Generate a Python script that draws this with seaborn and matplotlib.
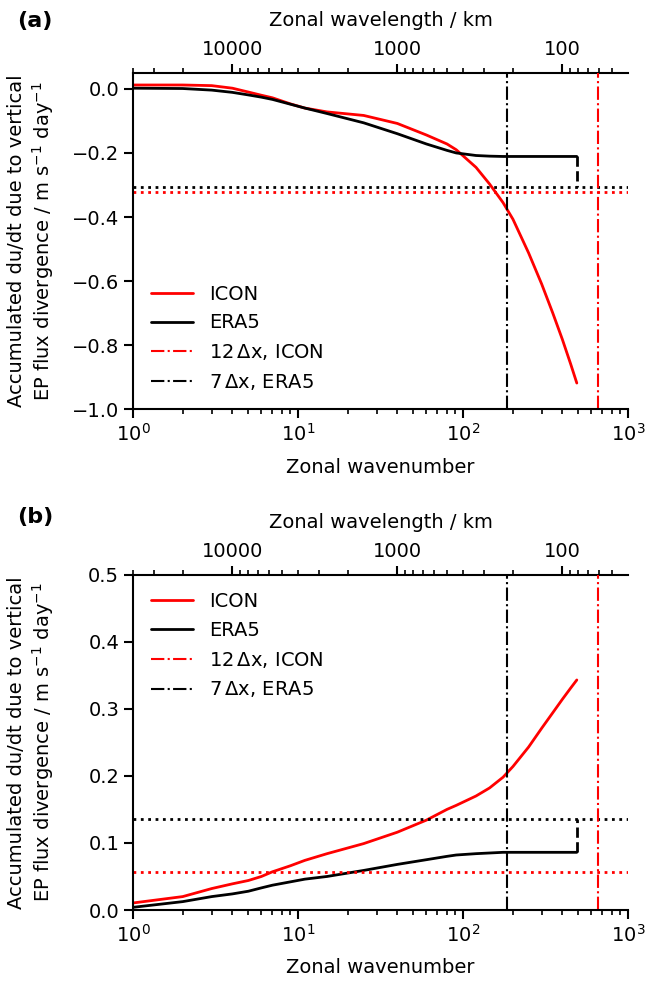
import numpy as np
import pandas as pd
import matplotlib
matplotlib.use("Agg")
import matplotlib.pyplot as plt
import seaborn as sns
from matplotlib.ticker import FuncFormatter, NullFormatter, FixedLocator

# ---------------- data ----------------
wavenumber = [1, 2, 3, 4, 5, 6, 7, 9, 11, 15, 25, 40, 60, 80, 91, 120, 145,
              175, 201, 250, 300, 350, 400, 450, 490]

icon_a = [0.012, 0.012, 0.010, 0.002, -0.010, -0.020, -0.028, -0.047, -0.060,
          -0.072, -0.083, -0.108, -0.144, -0.172, -0.190, -0.245, -0.297,
          -0.355, -0.407, -0.512, -0.609, -0.699, -0.781, -0.859, -0.918]
era5_a = [0.002, 0.001, -0.004, -0.011, -0.019, -0.026, -0.033, -0.048, -0.060,
          -0.077, -0.106, -0.140, -0.172, -0.192, -0.200, -0.208, -0.210,
          -0.211, -0.211, -0.211, -0.211, -0.211, -0.211, -0.211, -0.211]

icon_b = [0.0105, 0.020, 0.032, 0.039, 0.044, 0.050, 0.057, 0.066, 0.074,
          0.084, 0.099, 0.116, 0.134, 0.150, 0.156, 0.170, 0.182, 0.198,
          0.214, 0.243, 0.271, 0.294, 0.314, 0.331, 0.343]
era5_b = [0.004, 0.0125, 0.020, 0.024, 0.028, 0.033, 0.037, 0.042, 0.046,
          0.050, 0.059, 0.068, 0.075, 0.080, 0.082, 0.084, 0.085, 0.086,
          0.086, 0.086, 0.086, 0.086, 0.086, 0.086, 0.086]

# totals (dotted horizontal lines)
total_icon = {"a": -0.323, "b": 0.057}
total_era5 = {"a": -0.305, "b": 0.135}

# effective resolution cut-offs (zonal wavenumber)
cutoff_icon = 662   # 12 dx, ICON
cutoff_era5 = 184   # 7 dx, ERA5

earth_circ = 40030.0  # km
wavelength_ticks = [10000, 1000, 100]
wavelength_minor = ([20000, 30000, 40000] + list(range(2000, 10000, 1000))
                    + list(range(200, 1000, 100)) + [50, 60, 70, 80, 90])

panels = {
    "a": dict(icon=icon_a, era5=era5_a, ylim=(-1.0, 0.05),
              yticks=[-1.0, -0.8, -0.6, -0.4, -0.2, 0.0], loc="lower left"),
    "b": dict(icon=icon_b, era5=era5_b, ylim=(0.0, 0.5),
              yticks=[0.0, 0.1, 0.2, 0.3, 0.4, 0.5], loc="upper left"),
}

# ---------------- style ----------------
sns.set_style("ticks")
plt.rcParams["font.family"] = ["DejaVu Sans"]
plt.rcParams["font.size"] = 14
plt.rcParams["text.color"] = "black"
plt.rcParams["axes.labelcolor"] = "black"
plt.rcParams["axes.linewidth"] = 1.5
plt.rcParams["xtick.major.width"] = 1.5
plt.rcParams["ytick.major.width"] = 1.5
plt.rcParams["xtick.minor.width"] = 1.2
plt.rcParams["xtick.major.size"] = 6.5
plt.rcParams["ytick.major.size"] = 6.5
plt.rcParams["xtick.minor.size"] = 3.6
plt.rcParams["xtick.color"] = "black"
plt.rcParams["ytick.color"] = "black"
plt.rcParams["axes.edgecolor"] = "black"

fig = plt.figure(figsize=(6.46, 9.84), dpi=100)
left, width = 0.206, 0.766
axes_pos = {"a": [left, 0.584, width, 0.342], "b": [left, 0.0752, width, 0.3408]}
label_y = {"a": 0.979, "b": 0.4746}

ylabel = ("Accumulated du/dt due to vertical\n"
          "EP flux divergence / m s$^{-1}$ day$^{-1}$")

for key, p in panels.items():
    ax = fig.add_axes(axes_pos[key])
    df = pd.DataFrame({"k": wavenumber, "ICON": p["icon"], "ERA5": p["era5"]})

    sns.lineplot(data=df, x="k", y="ICON", ax=ax, color="red", lw=2.0,
                 label="ICON")
    sns.lineplot(data=df, x="k", y="ERA5", ax=ax, color="black", lw=2.0,
                 label="ERA5")
    ax.set_xscale("log")

    # connection from end of ERA5 curve to its total
    k_end = wavenumber[-1]
    ax.plot([k_end, k_end], [p["era5"][-1], total_era5[key]], color="black",
            ls="--", lw=2.0)

    ax.axhline(total_era5[key], color="black", ls=":", lw=2.0)
    ax.axhline(total_icon[key], color="red", ls=":", lw=2.0)

    ax.axvline(cutoff_icon, color="red", ls="-.", lw=1.5,
               label="12$\\,\\Delta$x, ICON")
    ax.axvline(cutoff_era5, color="black", ls="-.", lw=1.5,
               label="7$\\,\\Delta$x, ERA5")

    ax.set_xlim(1, 1000)
    ax.set_ylim(*p["ylim"])
    ax.set_yticks(p["yticks"])
    ax.yaxis.set_major_formatter(
        FuncFormatter(lambda v, pos: f"{v:.1f}".replace("-", "\u2212")))
    ax.set_xlabel("Zonal wavenumber", labelpad=9)
    ax.set_ylabel(ylabel)
    ax.yaxis.set_label_coords(-0.156, 0.5)

    ax.spines["right"].set_visible(False)
    ax.spines["top"].set_visible(False)

    handles, labels = ax.get_legend_handles_labels()
    order = ["ICON", "ERA5", "12$\\,\\Delta$x, ICON", "7$\\,\\Delta$x, ERA5"]
    hmap = dict(zip(labels, handles))
    ax.legend([hmap[o] for o in order], order, loc=p["loc"], frameon=False,
              handlelength=2.2)

    sec = ax.secondary_xaxis(
        "top",
        functions=(lambda k: earth_circ / np.clip(k, 1e-6, None),
                   lambda w: earth_circ / np.clip(w, 1e-6, None)))
    sec.xaxis.set_major_locator(FixedLocator(wavelength_ticks))
    sec.xaxis.set_minor_locator(FixedLocator(wavelength_minor))
    sec.xaxis.set_major_formatter(FuncFormatter(lambda v, pos: f"{v:.0f}"))
    sec.xaxis.set_minor_formatter(NullFormatter())
    sec.set_xlabel("Zonal wavelength / km", labelpad=10)
    sec.spines["top"].set_linewidth(1.5)

    fig.text(0.027, label_y[key], f"({key})", fontweight="bold",
             fontsize=16, va="center", ha="left")

fig.savefig("out.png", dpi=100)
